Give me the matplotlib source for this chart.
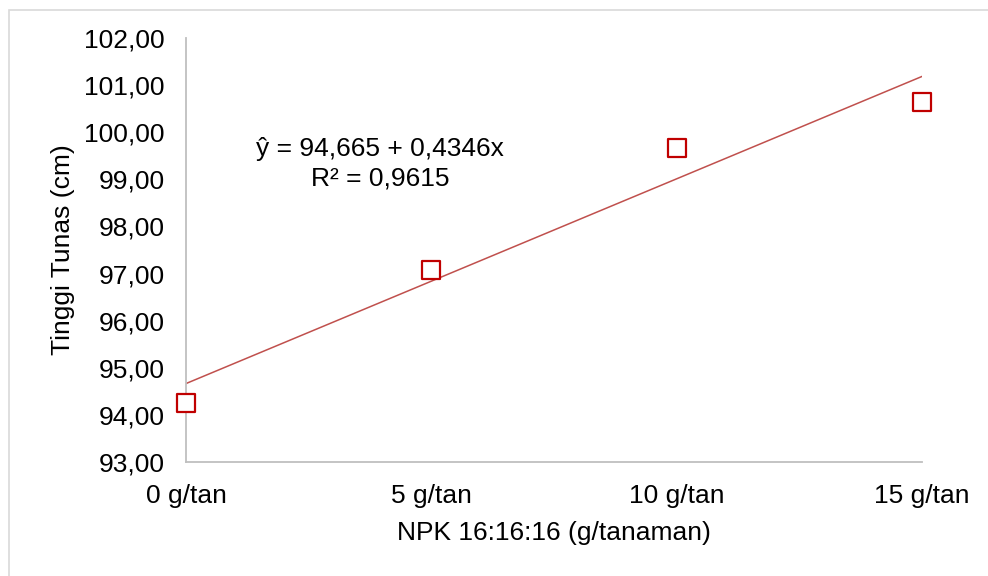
import matplotlib.pyplot as plt
from matplotlib.patches import Rectangle

plt.rcParams['font.family'] = ['Liberation Sans', 'DejaVu Sans']

# data
dosis = [0, 5, 10, 15]
tick_labels = ['0 g/tan', '5 g/tan', '10 g/tan', '15 g/tan']
tinggi = [94.26, 97.08, 99.67, 100.64]
intercept = 94.665
slope = 0.4346
y_ticks = [93, 94, 95, 96, 97, 98, 99, 100, 101, 102]

W, H = 988, 576
fig = plt.figure(figsize=(W / 100, H / 100), dpi=100)
ax = fig.add_axes([186 / W, 1 - 462 / H, (922 - 186) / W, (462 - 38) / H])

# frame around chart area
fig.patches.append(Rectangle((9 / W, -0.1), 1.2, 1 - 10 / H + 0.1, transform=fig.transFigure,
                             fill=False, edgecolor='#d9d9d9', linewidth=1.2))

trend_y = [intercept + slope * x for x in dosis]
ax.plot([dosis[0], dosis[-1]], [trend_y[0], trend_y[-1]], color='#c0504d', linewidth=1.1)
ax.scatter(dosis, tinggi, marker='s', s=170, facecolors='white', edgecolors='#c00000',
           linewidths=1.6, zorder=3, clip_on=False)

ax.set_xlim(0, 15)
ax.set_ylim(93, 102)
ax.set_xticks(dosis)
ax.set_xticklabels(tick_labels)
ax.set_yticks(y_ticks)
ax.set_yticklabels([f'{v:.2f}'.replace('.', ',') for v in y_ticks])
ax.tick_params(length=0, labelsize=19, pad=15.5)

for s in ['top', 'right']:
    ax.spines[s].set_visible(False)
for s in ['left', 'bottom']:
    ax.spines[s].set_color('#bfbfbf')
    ax.spines[s].set_linewidth(1.3)

ax.set_xlabel('NPK 16:16:16 (g/tanaman)', fontsize=19, labelpad=9.5)
ax.set_ylabel('Tinggi Tunas (cm)', fontsize=19, labelpad=6.5)

ax.text(3.96, 99.33, 'ŷ = 94,665 + 0,4346x\nR² = 0,9615', ha='center', va='center',
        fontsize=19, linespacing=1.3)

fig.savefig('out.png', dpi=100)
